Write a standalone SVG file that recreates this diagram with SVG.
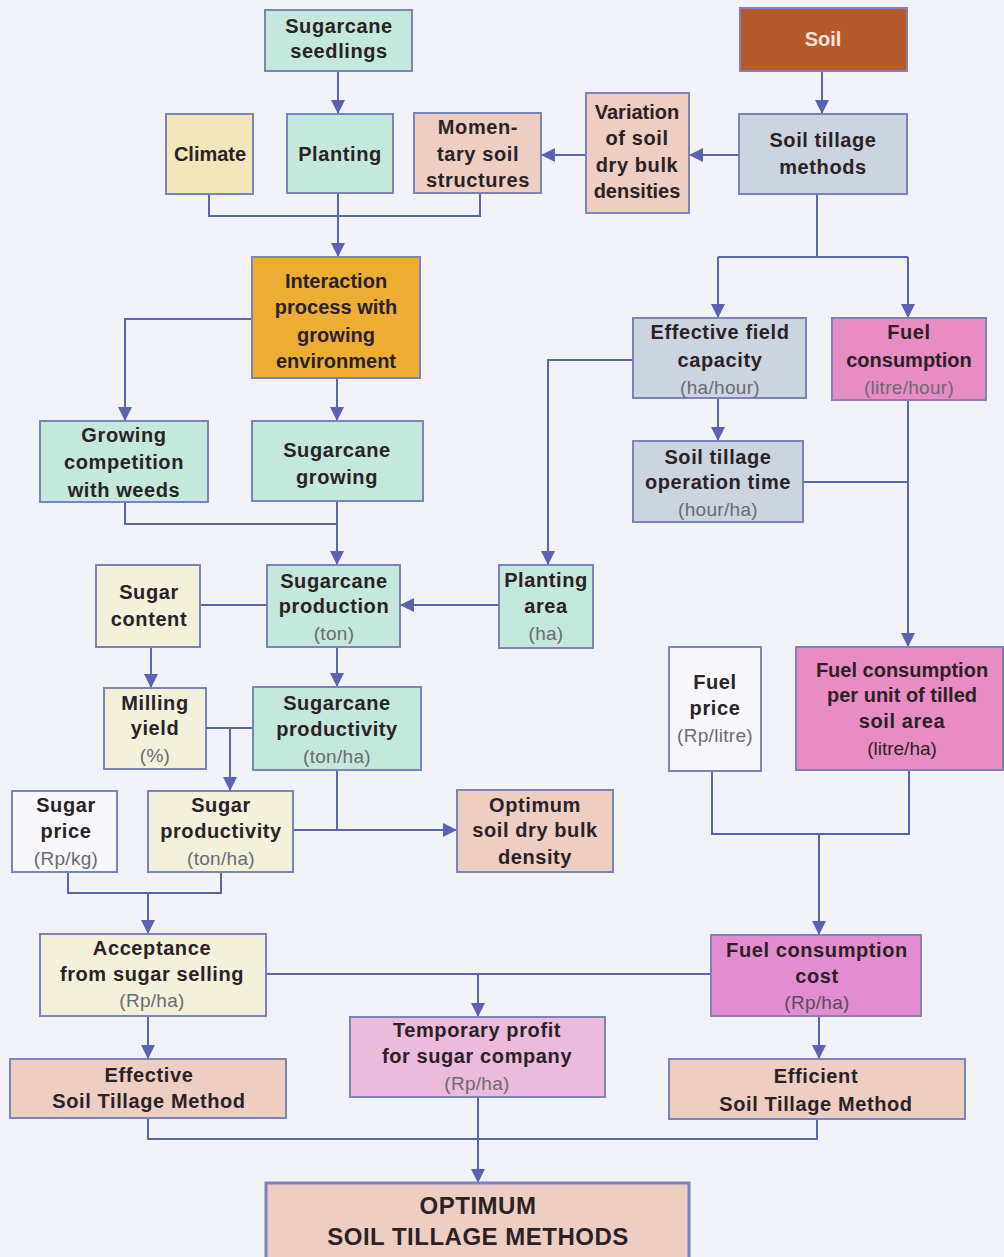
<svg xmlns="http://www.w3.org/2000/svg" width="1004" height="1257" viewBox="0 0 1004 1257">
<defs>
<marker id="ah" viewBox="0 0 12 12" refX="12" refY="6" markerWidth="14" markerHeight="14" markerUnits="userSpaceOnUse" orient="auto">
<path d="M0,0 L12,6 L0,12 z" fill="#5a62b2"/>
</marker>
<style>
.b{stroke:#7a84b8;stroke-width:2}
.teal{fill:#c4e8dc}
.yel{fill:#f2e6bc}
.pea{fill:#eecdc2}
.gry{fill:#ccd4e0}
.soil{fill:#b65a2e}
.ora{fill:#eeae34}
.pnk{fill:#ea8cc4}
.mag{fill:#e48cd0}
.lil{fill:#ecbadc}
.crm{fill:#f3f0dc}
.wht{fill:#f7f7fc}
text{font-family:"Liberation Sans",Arial,sans-serif;text-anchor:middle}
.t{font-size:20px;font-weight:bold;fill:#2a2226;letter-spacing:0.6px}
.u{font-size:19px;fill:#6a6a72;letter-spacing:0.3px}
.ud{font-size:19px;fill:#2a2226}
.w{font-size:20px;font-weight:bold;fill:#f6e4d8}
.big{font-size:24px;font-weight:bold;fill:#2a2226;letter-spacing:0.5px}
.c{fill:none;stroke:#5a62b2;stroke-width:2}
</style>
</defs>
<rect width="1004" height="1257" fill="#f1f1f8"/>

<g id="connectors">
<path class="c" d="M338,71 V114" marker-end="url(#ah)"/>
<path class="c" d="M822,71 V114" marker-end="url(#ah)"/>
<path class="c" d="M739,155 H689" marker-end="url(#ah)"/>
<path class="c" d="M586,155 H541" marker-end="url(#ah)"/>
<path class="c" d="M209,194 V216 H480 V193"/>
<path class="c" d="M338,193 V257" marker-end="url(#ah)"/>
<path class="c" d="M252,319 H125 V421" marker-end="url(#ah)"/>
<path class="c" d="M337,378 V421" marker-end="url(#ah)"/>
<path class="c" d="M125,502 V524 H337"/>
<path class="c" d="M337,501 V565" marker-end="url(#ah)"/>
<path class="c" d="M817,193 V257"/>
<path class="c" d="M718,257 H908"/>
<path class="c" d="M718,257 V318" marker-end="url(#ah)"/>
<path class="c" d="M908,257 V318" marker-end="url(#ah)"/>
<path class="c" d="M718,398 V441" marker-end="url(#ah)"/>
<path class="c" d="M633,360 H548 V565" marker-end="url(#ah)"/>
<path class="c" d="M803,482 H908"/>
<path class="c" d="M908,400 V647" marker-end="url(#ah)"/>
<path class="c" d="M499,605 H400" marker-end="url(#ah)"/>
<path class="c" d="M200,605 H267"/>
<path class="c" d="M151,647 V688" marker-end="url(#ah)"/>
<path class="c" d="M337,647 V687" marker-end="url(#ah)"/>
<path class="c" d="M206,728 H253"/>
<path class="c" d="M230,728 V791" marker-end="url(#ah)"/>
<path class="c" d="M337,770 V830"/>
<path class="c" d="M293,830 H457" marker-end="url(#ah)"/>
<path class="c" d="M68,872 V893 H221 V872"/>
<path class="c" d="M148,893 V934" marker-end="url(#ah)"/>
<path class="c" d="M712,771 V834 H909 V770"/>
<path class="c" d="M819,834 V935" marker-end="url(#ah)"/>
<path class="c" d="M266,974 H711"/>
<path class="c" d="M478,974 V1017" marker-end="url(#ah)"/>
<path class="c" d="M148,1016 V1059" marker-end="url(#ah)"/>
<path class="c" d="M819,1016 V1059" marker-end="url(#ah)"/>
<path class="c" d="M148,1118 V1139 H817 V1119"/>
<path class="c" d="M478,1097 V1183" marker-end="url(#ah)"/>
</g>

<g id="seedlings"><rect class="b teal" x="265" y="10" width="147" height="61"/>
<text class="t" x="339" y="33">Sugarcane</text><text class="t" x="339" y="58">seedlings</text></g>

<g id="soil"><rect class="b soil" x="740" y="8" width="167" height="63"/>
<text class="w" x="823" y="46">Soil</text></g>

<g id="climate"><rect class="b yel" x="166" y="114" width="87" height="80"/>
<text class="t" x="210" y="161" style="letter-spacing:0">Climate</text></g>

<g id="planting"><rect class="b teal" x="287" y="114" width="106" height="79"/>
<text class="t" x="340" y="161">Planting</text></g>

<g id="momentary"><rect class="b pea" x="414" y="113" width="127" height="80"/>
<text class="t" x="478" y="134">Momen-</text><text class="t" x="478" y="161">tary soil</text><text class="t" x="478" y="187">structures</text></g>

<g id="variation"><rect class="b pea" x="586" y="93" width="103" height="120"/>
<text class="t" x="637" y="119" style="letter-spacing:0">Variation</text><text class="t" x="637" y="145">of soil</text><text class="t" x="637" y="172">dry bulk</text><text class="t" x="637" y="198" style="letter-spacing:0">densities</text></g>

<g id="tillage-methods"><rect class="b gry" x="739" y="114" width="168" height="80"/>
<text class="t" x="823" y="147">Soil tillage</text><text class="t" x="823" y="174">methods</text></g>

<g id="interaction"><rect class="b ora" x="252" y="257" width="168" height="121"/>
<text class="t" x="336" y="288" style="letter-spacing:0">Interaction</text><text class="t" x="336" y="314" style="letter-spacing:0">process with</text><text class="t" x="336" y="342" style="letter-spacing:0">growing</text><text class="t" x="336" y="368" style="letter-spacing:0">environment</text></g>

<g id="competition"><rect class="b teal" x="40" y="421" width="168" height="81"/>
<text class="t" x="124" y="442">Growing</text><text class="t" x="124" y="469">competition</text><text class="t" x="124" y="497">with weeds</text></g>

<g id="growing"><rect class="b teal" x="252" y="421" width="171" height="80"/>
<text class="t" x="337" y="457">Sugarcane</text><text class="t" x="337" y="484">growing</text></g>

<g id="field-capacity"><rect class="b gry" x="633" y="318" width="173" height="80"/>
<text class="t" x="720" y="339">Effective field</text><text class="t" x="720" y="367">capacity</text><text class="u" x="720" y="394">(ha/hour)</text></g>

<g id="fuel-consumption"><rect class="b pnk" x="832" y="318" width="154" height="82"/>
<text class="t" x="909" y="339">Fuel</text><text class="t" x="909" y="367" style="letter-spacing:0">consumption</text><text class="u" x="909" y="394">(litre/hour)</text></g>

<g id="operation-time"><rect class="b gry" x="633" y="441" width="170" height="81"/>
<text class="t" x="718" y="464">Soil tillage</text><text class="t" x="718" y="489">operation time</text><text class="u" x="718" y="516">(hour/ha)</text></g>

<g id="sugar-content"><rect class="b crm" x="96" y="565" width="104" height="82"/>
<text class="t" x="149" y="599">Sugar</text><text class="t" x="149" y="626">content</text></g>

<g id="production"><rect class="b teal" x="267" y="565" width="133" height="82"/>
<text class="t" x="334" y="588">Sugarcane</text><text class="t" x="334" y="613">production</text><text class="u" x="334" y="640">(ton)</text></g>

<g id="planting-area"><rect class="b teal" x="499" y="565" width="94" height="83"/>
<text class="t" x="546" y="587">Planting</text><text class="t" x="546" y="613">area</text><text class="u" x="546" y="640">(ha)</text></g>

<g id="milling-yield"><rect class="b crm" x="104" y="688" width="102" height="81"/>
<text class="t" x="155" y="710">Milling</text><text class="t" x="155" y="735">yield</text><text class="u" x="155" y="762">(%)</text></g>

<g id="cane-productivity"><rect class="b teal" x="253" y="687" width="168" height="83"/>
<text class="t" x="337" y="710">Sugarcane</text><text class="t" x="337" y="736">productivity</text><text class="u" x="337" y="763">(ton/ha)</text></g>

<g id="sugar-price"><rect class="b wht" x="12" y="791" width="105" height="81"/>
<text class="t" x="66" y="812">Sugar</text><text class="t" x="66" y="838">price</text><text class="u" x="66" y="865">(Rp/kg)</text></g>

<g id="sugar-productivity"><rect class="b crm" x="148" y="791" width="145" height="81"/>
<text class="t" x="221" y="812">Sugar</text><text class="t" x="221" y="838">productivity</text><text class="u" x="221" y="865">(ton/ha)</text></g>

<g id="optimum-density"><rect class="b pea" x="457" y="790" width="156" height="82"/>
<text class="t" x="535" y="812">Optimum</text><text class="t" x="535" y="837">soil dry bulk</text><text class="t" x="535" y="864">density</text></g>

<g id="fuel-price"><rect class="b wht" x="669" y="647" width="92" height="124"/>
<text class="t" x="715" y="689">Fuel</text><text class="t" x="715" y="715">price</text><text class="u" x="715" y="742">(Rp/litre)</text></g>

<g id="fuel-per-area"><rect class="b pnk" x="796" y="647" width="207" height="123"/>
<text class="t" x="902" y="677" style="letter-spacing:0">Fuel consumption</text><text class="t" x="902" y="702" style="letter-spacing:0">per unit of tilled</text><text class="t" x="902" y="728">soil area</text><text class="ud" x="902" y="755">(litre/ha)</text></g>

<g id="acceptance"><rect class="b crm" x="40" y="934" width="226" height="82"/>
<text class="t" x="152" y="955">Acceptance</text><text class="t" x="152" y="981">from sugar selling</text><text class="u" x="152" y="1007">(Rp/ha)</text></g>

<g id="fuel-cost"><rect class="b mag" x="711" y="935" width="210" height="81"/>
<text class="t" x="817" y="957">Fuel consumption</text><text class="t" x="817" y="983">cost</text><text class="u" x="817" y="1009" style="fill:#5a4a5a">(Rp/ha)</text></g>

<g id="temporary-profit"><rect class="b lil" x="350" y="1017" width="255" height="80"/>
<text class="t" x="477" y="1037">Temporary profit</text><text class="t" x="477" y="1063">for sugar company</text><text class="u" x="477" y="1090">(Rp/ha)</text></g>

<g id="effective"><rect class="b pea" x="10" y="1059" width="276" height="59"/>
<text class="t" x="149" y="1082">Effective</text><text class="t" x="149" y="1108">Soil Tillage Method</text></g>

<g id="efficient"><rect class="b pea" x="669" y="1059" width="296" height="60"/>
<text class="t" x="816" y="1083">Efficient</text><text class="t" x="816" y="1111">Soil Tillage Method</text></g>

<g id="optimum"><rect class="pea" x="266" y="1183" width="423" height="80" style="stroke:#7a84b8;stroke-width:3"/>
<text class="big" x="478" y="1214">OPTIMUM</text><text class="big" x="478" y="1245">SOIL TILLAGE METHODS</text></g>
</svg>
